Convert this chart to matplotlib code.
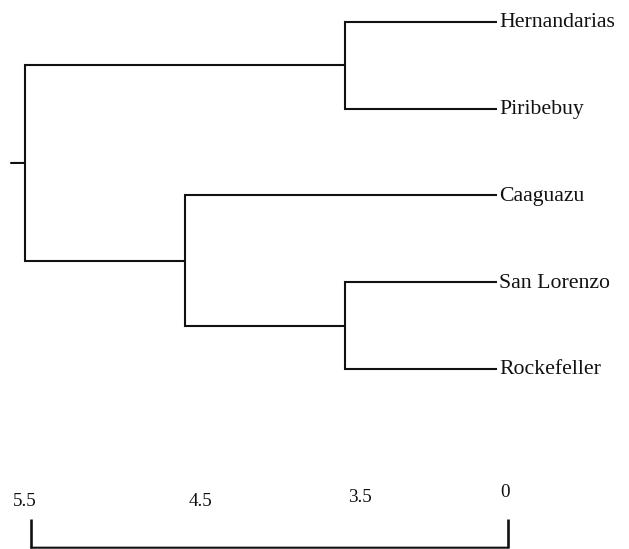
import numpy as np
import matplotlib
matplotlib.use("Agg")
import matplotlib.pyplot as plt
from matplotlib import transforms

# ---- data ----
leaves = ["Hernandarias", "Piribebuy", "Caaguazu", "San Lorenzo", "Rockefeller"]
# merges in scipy-linkage style: (child_a, child_b, height); new ids start at len(leaves)
merge_a = [0, 3, 2, 5]
merge_b = [1, 4, 6, 7]
merge_h = [3.5, 3.5, 4.5, 5.5]
scale_ticks = [5.5, 4.5, 3.5, 0]
scale_labels = ["5.5", "4.5", "3.5", "0"]

# ---- non-linear distance scale (piecewise linear, as in the original figure) ----
bp_h = np.array([-10.0, 0.0, 3.5, 4.5, 5.5, 20.0])
bp_p = np.array([-434.0, 0.0, 152.0, 312.0, 472.0, 2792.0])

def fwd(h):
    return np.interp(h, bp_h, bp_p)

def inv(p):
    return np.interp(p, bp_p, bp_h)

fig = plt.figure(figsize=(6.29, 5.49), dpi=100)
fig.patch.set_facecolor("white")
ax = fig.add_axes([0, 0, 1, 1])
ax.set_xscale("function", functions=(fwd, inv))
ax.set_xlim(inv(472 + 25), inv(-(629 - 497)))
ax.set_ylim(6.075, -0.2536)
ax.axis("off")

lw = 1.5
col = "#111111"

# leaf positions
ypos = {i: float(i) for i in range(len(leaves))}
hpos = {i: 0.0 for i in range(len(leaves))}
nid = len(leaves)
for a, b, h in zip(merge_a, merge_b, merge_h):
    ya, yb = ypos[a], ypos[b]
    ax.plot([hpos[a], h], [ya, ya], color=col, lw=lw, solid_capstyle="butt")
    ax.plot([hpos[b], h], [yb, yb], color=col, lw=lw, solid_capstyle="butt")
    ax.plot([h, h], [ya, yb], color=col, lw=lw, solid_capstyle="projecting")
    ypos[nid] = (ya + yb) / 2
    hpos[nid] = h
    nid += 1

# root stub
root = nid - 1
ax.annotate("", xy=(hpos[root], ypos[root]), xytext=(-14, 0),
            textcoords="offset pixels",
            arrowprops=dict(arrowstyle="-", color=col, lw=lw, shrinkA=0, shrinkB=0))

# leaf labels
for i, name in enumerate(leaves):
    ax.annotate(name, xy=(0, ypos[i]), xytext=(2, -5.5), textcoords="offset pixels",
                ha="left", va="baseline", fontsize=15.7, family="Liberation Serif",
                color="#111111")

# scale labels
label_dx = [-0.5, 15.5, 15, 8]
label_base = [506, 506, 502, 497]
for t, lab, dx, yb in zip(scale_ticks, scale_labels, label_dx, label_base):
    ax.annotate(lab, xy=(t, 0), xycoords=("data", "figure pixels"),
                xytext=(dx, 549 - yb), textcoords="offset pixels",
                ha="center", va="baseline", fontsize=13.8,
                family="Liberation Serif", color="#111111")

# scale bar
y_top, y_bot = 5.729, 6.06
left_tr = transforms.offset_copy(ax.transData, fig=fig, x=6, y=0, units="dots")
right_tr = transforms.offset_copy(ax.transData, fig=fig, x=11, y=0, units="dots")
ax.plot([scale_ticks[0], scale_ticks[0]], [y_top, y_bot], color=col, lw=1.9,
        transform=left_tr, solid_capstyle="butt")
ax.plot([scale_ticks[-1], scale_ticks[-1]], [y_top, y_bot], color=col, lw=1.9,
        transform=right_tr, solid_capstyle="butt")
ax.annotate("", xy=(scale_ticks[-1], y_bot), xytext=(scale_ticks[0], y_bot),
            xycoords=right_tr, textcoords=left_tr,
            arrowprops=dict(arrowstyle="-", color=col, lw=1.5, shrinkA=0, shrinkB=0))

fig.savefig("out.png", dpi=100, facecolor="white")
